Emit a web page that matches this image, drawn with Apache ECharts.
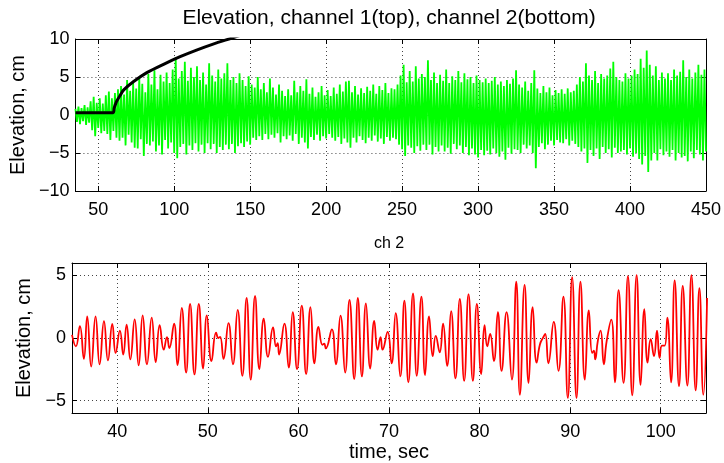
<!DOCTYPE html>
<html>
<head>
<meta charset="utf-8">
<script src="https://cdn.jsdelivr.net/npm/echarts@6/dist/echarts.min.js"></script>
<style>html,body{margin:0;padding:0;background:#fff}#c{width:724px;height:463px}</style>
</head>
<body>
<div id="c"></div>
<script>
// ---- Top panel (channel 1): green signal, peaks at t=35,37,...,449 and troughs at t=36,38,...,450
const greenT0 = 35;
const greenHi = [
0.8,1.1,0.9,1.3,1.0, 1.8,2.4,1.6,2.2,1.5, 2.6,3.1,2.2,2.9,3.4, 3.8,2.7,4.6,3.2,4.2,
3.5,5.0,4.1,3.0,5.4, 4.0,5.9,3.4,5.3,4.4, 5.6,4.2,6.0,7.6,4.8, 5.8,7.0,4.5,6.2,5.0,
6.4,4.6,5.6,4.0,6.8, 5.2,4.4,6.0,4.8,5.5, 6.8,4.6,5.0,4.2,5.5, 4.6,3.8,5.1,4.0,3.6,
5.0,3.4,4.2,3.0,4.8, 3.6,2.7,4.0,3.2,2.5, 3.4,2.6,4.5,3.0,3.8, 3.2,4.7,2.8,3.6,2.4,
3.0,3.8,2.6,3.3,2.5, 3.6,2.8,4.0,3.1,4.4, 4.5,3.0,3.8,2.7,3.5, 2.9,3.7,3.2,4.0,2.8,
3.8,3.3,4.2,2.9,3.5, 3.4,4.0,5.2,6.6,4.3, 5.8,4.4,6.4,4.8,5.4, 5.0,7.2,4.6,5.6,4.2,
5.3,4.5,6.0,4.2,5.1, 4.6,5.8,4.3,5.5,4.7, 5.0,4.2,5.2,4.6,4.3, 4.8,4.2,4.5,5.0,4.0,
4.4,3.8,4.6,4.1,4.8, 5.9,4.0,3.6,4.4,3.2, 4.2,5.9,3.5,2.9,3.8, 3.0,3.6,2.6,3.3,2.9,
3.4,2.8,3.5,3.0,3.2, 4.0,5.0,4.4,6.8,5.2, 4.6,5.8,4.2,5.4,4.8, 5.2,6.1,7.0,5.0,4.6,
4.4,5.5,4.8,5.2,6.0, 5.4,7.4,6.2,8.5,6.6, 5.2,6.4,4.6,5.6,4.8, 5.5,4.6,6.0,5.2,5.7,
7.2,5.0,6.0,4.8,5.6, 6.6,5.3,6.0
];
const greenLo = [
-0.9,-1.2,-0.8,-1.3,-1.0, -2.0,-2.8,-1.7,-2.4,-2.1, -2.5,-3.3,-2.1,-3.0,-3.4, -3.0,-4.0,-2.6,-3.6,-4.3,
-4.4,-3.2,-5.4,-3.8,-4.0, -3.5,-4.8,-4.0,-5.2,-3.3, -4.4,-3.6,-5.0,-5.7,-4.2, -3.8,-5.2,-4.0,-4.6,-3.7,
-4.8,-3.9,-5.0,-3.7,-4.5, -3.8,-5.0,-4.2,-4.6,-3.9, -4.5,-3.8,-5.0,-4.1,-3.7, -4.2,-3.5,-3.9,-3.0,-3.3,
-2.8,-3.3,-2.5,-3.2,-2.6, -3.0,-2.4,-3.6,-2.8,-3.2, -2.7,-3.4,-2.5,-3.8,-3.0, -3.6,-4.4,-2.9,-3.3,-2.6,
-3.4,-2.8,-3.1,-2.5,-3.0, -3.4,-2.9,-3.8,-3.1,-3.6, -4.3,-3.0,-3.6,-2.8,-3.3, -3.7,-3.0,-3.4,-2.7,-3.5,
-3.1,-3.8,-2.9,-3.4,-3.0, -3.2,-3.9,-4.5,-5.4,-4.0, -4.3,-5.0,-4.1,-4.7,-3.9, -4.6,-3.9,-5.2,-4.2,-4.8,
-4.0,-4.8,-4.3,-5.1,-3.8, -4.5,-4.0,-5.0,-4.2,-5.3, -4.4,-5.2,-5.6,-4.6,-5.3, -4.7,-5.2,-4.4,-5.0,-5.5,
-4.8,-5.9,-4.3,-5.1,-4.5, -4.6,-5.0,-3.9,-4.4,-4.0, -5.0,-7.0,-4.2,-3.7,-4.5, -3.9,-3.4,-4.0,-3.3,-3.6,
-3.7,-3.2,-4.0,-3.4,-3.8, -4.2,-4.8,-4.4,-6.3,-4.6, -5.4,-4.4,-5.8,-4.2,-5.0, -4.5,-5.6,-4.3,-5.0,-4.8,
-4.6,-5.2,-4.4,-5.5,-5.0, -5.8,-6.5,-5.4,-7.5,-6.0, -5.0,-6.0,-4.5,-5.3,-4.8, -5.5,-4.6,-6.0,-5.0,-5.6,
-5.4,-6.1,-4.8,-5.7,-4.6, -5.2,-6.0,-4.8
];
// black trend curve on the top panel
const blackT = [35, 59.8, 60.5, 61.5, 62.4, 64.5, 66.8, 73.3, 82, 93, 103.9, 114.7, 125.6, 137.6, 150];
const blackV = [0.3, 0.3, 0.9, 1.5, 1.9, 2.6, 3.3, 4.4, 5.57, 6.67, 7.67, 8.54, 9.33, 10.1, 10.9];

// ---- Bottom panel (channel 2): red signal, extrema
const redT = [35.0,35.43,35.87,36.31,36.68,37.12,37.6,38.05,38.53,38.97,39.45,39.82,40.29,40.66,41.03,41.44,41.92,42.36,42.8,43.28,
43.8,44.24,44.68,45.13,45.49,45.75,46.27,46.64,47.12,47.6,48.04,48.52,49.0,49.48,49.88,50.4,50.91,51.17,51.36,51.73,
52.28,52.77,53.29,53.81,54.28,54.73,55.21,55.69,56.17,56.64,57.2,57.53,57.71,57.86,58.45,58.93,59.37,59.85,60.37,60.85,
61.33,61.77,62.21,62.65,62.84,63.02,63.69,64.13,64.65,65.16,65.64,66.16,66.56,67.01,67.45,67.93,68.37,68.74,69.07,69.29,
69.85,70.29,70.74,71.25,71.7,72.14,72.65,73.06,73.58,73.98,74.42,74.83,75.16,75.6,75.97,76.42,76.86,77.34,77.82,78.3,
78.78,79.26,79.7,80.18,80.55,80.85,81.17,81.58,82.02,82.43,82.98,83.57,84.05,84.45,84.97,85.41,85.86,86.3,86.67,87.04,
87.25,87.6,88.19,88.71,89.26,89.74,90.22,90.7,91.14,91.62,92.06,92.43,92.62,92.77,93.06,93.36,93.72,94.02,94.54,94.94,
95.35,95.9,96.38,96.86,97.34,97.78,98.19,98.55,98.89,99.26,99.59,99.88,100.14,100.43,100.73,101.14,101.54,102.02,102.43,102.94,
103.39,103.86,104.27,104.71,105.12];
const redV = [0.25,-0.67,0.95,-1.66,1.74,-2.29,1.74,-2.1,1.35,-1.79,1.14,-1.19,0.59,-1.32,1.08,-1.71,1.5,-2.18,1.82,-2.1,
1.63,-1.92,1.03,-0.93,0.07,-0.8,1.16,-2.16,2.42,-2.76,2.73,-2.91,2.73,-2.44,1.82,-1.84,0.43,0.0,0.1,-1.66,
1.2,-2.1,2.26,-3.02,3.2,-3.33,3.36,-2.49,1.55,-1.5,0.85,-0.67,-0.4,-1.32,1.16,-2.36,2.08,-2.49,2.6,-2.89,
2.47,-2.02,0.9,-0.54,-0.45,-0.82,0.69,-2.1,1.79,-2.76,3.04,-3.28,3.2,-3.07,2.78,-2.44,1.37,-0.93,0.07,-0.93,
0.5,-2.02,2.0,-3.07,2.99,-3.54,3.56,-3.02,3.3,-2.96,1.74,-1.45,0.17,-1.14,1.16,-2.23,2.16,-3.23,3.12,-3.43,
3.51,-3.43,2.73,-2.89,1.03,-0.67,0.33,-1.84,2.08,-2.63,2.08,-3.33,4.5,-4.53,4.25,-3.59,2.47,-1.97,-0.5,0.07,
0.33,-2.02,1.29,-2.63,3.3,-4.79,4.87,-4.79,4.5,-3.33,2.21,-1.19,-1.0,-1.71,-0.2,0.59,-2.1,-0.3,1.48,-3.54,
3.83,-3.59,4.95,-4.58,5.03,-3.75,2.31,-1.97,-0.09,-1.45,0.59,-1.58,-0.6,-0.6,1.63,-3.54,4.61,-3.85,4.17,-3.8,
5.03,-4.19,3.98,-4.53,3.2];

// ---- tick labels
const topXTicks = [50,100,150,200,250,300,350,400,450];
const topYTicks = [-10,-5,0,5,10];
const botXTicks = [40,50,60,70,80,90,100];
const botYTicks = [-5,0,5];

const greenData = [];
for (let i = 0; i < greenHi.length; i++) {
  greenData.push([greenT0 + 2 * i, greenHi[i]]);
  greenData.push([greenT0 + 2 * i + 1, greenLo[i]]);
}
const blackData = blackT.map((t, i) => [t, blackV[i]]);
const redData = redT.map((t, i) => [t, redV[i]]);

const FONT = 'Liberation Sans';
const minus = v => String(v).replace('-', '\u2212');
const gridLine = {show: true, lineStyle: {color: '#444', width: 1, type: [1, 3]}};

function xAx(grid, min, max, ticks, bottom) {
  return {
    type: 'value', gridIndex: grid, min: min, max: max, position: bottom ? 'bottom' : 'top',
    axisLine: {onZero: false, lineStyle: {color: '#000', width: 1}},
    axisTick: {inside: true, length: 5, customValues: ticks, lineStyle: {color: '#000'}},
    axisLabel: {show: bottom, customValues: ticks, color: '#000', fontSize: 18, fontFamily: FONT, margin: 10, formatter: minus},
    splitLine: bottom ? gridLine : {show: false}
  };
}
function yAx(grid, min, max, ticks, left) {
  return {
    type: 'value', gridIndex: grid, min: min, max: max, position: left ? 'left' : 'right',
    axisLine: {onZero: false, lineStyle: {color: '#000', width: 1}},
    axisTick: {inside: true, length: 5, customValues: ticks, lineStyle: {color: '#000'}},
    axisLabel: {show: left, customValues: ticks, color: '#000', fontSize: 18, fontFamily: FONT, margin: 6, formatter: minus},
    splitLine: left ? gridLine : {show: false},
    name: left ? 'Elevation, cm' : '', nameLocation: 'middle', nameGap: 37, nameRotate: 90,
    nameTextStyle: {color: '#000', fontSize: 20, fontFamily: FONT}
  };
}

const chart = echarts.init(document.getElementById('c'), null, {renderer: 'canvas'});
chart.setOption({
  animation: false,
  backgroundColor: '#fff',
  grid: [
    {left: 72, top: 39, width: 634, height: 152},
    {left: 72, top: 263, width: 634, height: 152}
  ],
  xAxis: [
    xAx(0, 35, 450, topXTicks, true),
    xAx(0, 35, 450, topXTicks, false),
    Object.assign(xAx(1, 35, 105, botXTicks, true), {name: 'time, sec', nameLocation: 'middle', nameGap: 19, nameTextStyle: {color: '#000', fontSize: 20, fontFamily: FONT}}),
    xAx(1, 35, 105, botXTicks, false)
  ],
  yAxis: [
    Object.assign(yAx(0, -10, 10, topYTicks, true), {interval: 5}),
    Object.assign(yAx(0, -10, 10, topYTicks, false), {interval: 5}),
    yAx(1, -6, 6, botYTicks, true),
    yAx(1, -6, 6, botYTicks, false)
  ],
  graphic: [
    {type: 'text', x: 389, y: 18, style: {text: 'Elevation, channel 1(top), channel 2(bottom)', fill: '#000', font: '21px "Liberation Sans"', align: 'center', verticalAlign: 'middle'}},
    {type: 'text', x: 389, y: 244, style: {text: 'ch 2', fill: '#000', font: '16px "Liberation Sans"', align: 'center', verticalAlign: 'middle'}}
  ],
  series: [
    {type: 'line', xAxisIndex: 0, yAxisIndex: 0, data: greenData, showSymbol: false, clip: true,
     lineStyle: {color: '#00ff00', width: 1.8}, z: 2},
    {type: 'line', xAxisIndex: 0, yAxisIndex: 0, data: blackData, showSymbol: false, clip: true, smooth: 0.3,
     lineStyle: {color: '#000', width: 3}, z: 3},
    {type: 'line', xAxisIndex: 2, yAxisIndex: 2, data: redData, showSymbol: false, clip: true, smooth: 0.5,
     lineStyle: {color: '#ff0000', width: 1.8}, z: 2}
  ]
});
</script>
</body>
</html>
